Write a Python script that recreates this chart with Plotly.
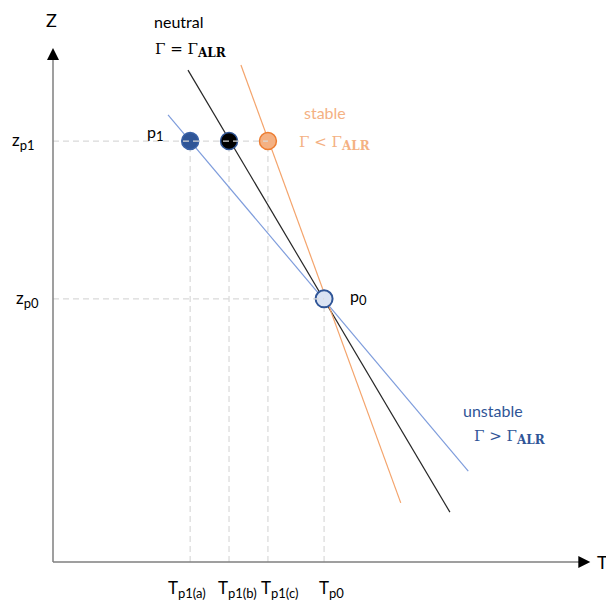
import plotly.graph_objects as go

# ---- data (schematic units) ----
T_ticks = [2.54, 3.26, 3.98, 5.02]
T_tick_subs = ["p1(a)", "p1(b)", "p1(c)", "p0"]
z_p0 = 5.12
z_p1 = 8.19
z_tick_subs = ["p1", "p0"]

# parcel points at z_p1 (unstable, neutral, stable) and p0
p1_T = [2.54, 3.26, 3.98]
p0_T = 5.02

# lapse-rate lines: (T, z) endpoints
unstable_T = [2.13, 7.69]
unstable_z = [8.70, 1.77]
neutral_T = [2.50, 7.35]
neutral_z = [9.57, 0.97]
stable_T = [3.48, 6.44]
stable_z = [9.67, 1.15]

BLUE_LINE = "#7f9ddc"
BLUE_DARK = "#2f5597"
ORANGE_LINE = "#f4a46c"
ORANGE_FILL = "#f4b183"
ORANGE_EDGE = "#ed7d31"
GRID = "#d9d9d9"

fig = go.Figure()

dash = dict(color=GRID, width=1.2, dash="6px,4px")
# vertical dashed guides (under markers)
for t in p1_T:
    fig.add_trace(go.Scatter(x=[t, t], y=[0, z_p1], mode="lines", line=dash, hoverinfo="skip"))
fig.add_trace(go.Scatter(x=[p0_T, p0_T], y=[0, z_p0], mode="lines", line=dash, hoverinfo="skip"))

# lines
fig.add_trace(go.Scatter(x=unstable_T, y=unstable_z, mode="lines",
                         line=dict(color=BLUE_LINE, width=1.2), hoverinfo="skip"))
fig.add_trace(go.Scatter(x=neutral_T, y=neutral_z, mode="lines",
                         line=dict(color="#262626", width=1.2), hoverinfo="skip"))
fig.add_trace(go.Scatter(x=stable_T, y=stable_z, mode="lines",
                         line=dict(color=ORANGE_LINE, width=1.2), hoverinfo="skip"))

# points
fig.add_trace(go.Scatter(x=p1_T, y=[z_p1] * 3, mode="markers",
                         marker=dict(size=17, color=[BLUE_DARK, "#000000", ORANGE_FILL],
                                     line=dict(color=["#3a62a8", BLUE_DARK, ORANGE_EDGE], width=1.5)),
                         hoverinfo="skip"))
fig.add_trace(go.Scatter(x=[p0_T], y=[z_p0], mode="markers",
                         marker=dict(size=17, color="#dae3f3", line=dict(color=BLUE_DARK, width=2)),
                         hoverinfo="skip"))

# horizontal dashed guides (above markers)
fig.add_trace(go.Scatter(x=[0, max(p1_T)], y=[z_p1, z_p1], mode="lines", line=dash, hoverinfo="skip"))
fig.add_trace(go.Scatter(x=[0, p0_T], y=[z_p0, z_p0], mode="lines", line=dash, hoverinfo="skip"))

# axes lines
fig.add_shape(type="line", x0=0, y0=0, x1=9.85, y1=0, xref="x", yref="y",
              line=dict(color="#7f7f7f", width=1.5))
fig.add_shape(type="line", x0=0, y0=0, x1=0, y1=9.85, xref="x", yref="y",
              line=dict(color="#7f7f7f", width=1.5))
# arrowheads
fig.add_annotation(x=9.95, y=0, ax=-12, ay=0, xref="x", yref="y", showarrow=True,
                   arrowhead=2, arrowsize=1.6, arrowwidth=1.5, arrowcolor="#000000", text="")
fig.add_annotation(x=0, y=10.0, ax=0, ay=12, xref="x", yref="y", showarrow=True,
                   arrowhead=2, arrowsize=1.6, arrowwidth=1.5, arrowcolor="#000000", text="")

sans = "Lato, 'Open Sans', sans-serif"
serif = "'DejaVu Serif', 'Liberation Serif', serif"


def sub(s, px):
    return '<sub><span style="font-size:%dpx">%s</span></sub>' % (px, s)


def txt(x, y, text, color="#000000", size=15, family=sans, xanchor="center", xshift=0):
    fig.add_annotation(x=x, y=y, xref="x", yref="y", text=text, showarrow=False, xshift=xshift,
                       font=dict(family=family, size=size, color=color), xanchor=xanchor)


alr = '<sub><span style="font-size:12px"><b>ALR</b></span></sub>'
txt(-0.02, 10.55, "Z", size=18)
txt(10.17, 0, "T", size=18)
txt(2.33, 10.51, "neutral", size=16)
txt(2.56, 9.96, "Γ = Γ" + alr, family=serif, size=15)
txt(1.89, 8.35, "p" + sub("1", 13), size=16)
txt(5.04, 8.74, "stable", color=ORANGE_FILL, size=16)
txt(5.22, 8.15, "Γ &lt; Γ" + alr, color=ORANGE_FILL, family=serif, size=15)
txt(5.65, 5.16, "p" + sub("0", 13), size=16)
txt(8.15, 2.94, "unstable", color=BLUE_DARK, size=16)
txt(8.46, 2.43, "Γ &gt; Γ" + alr, color=BLUE_DARK, family=serif, size=15)

# tick labels
shifts = [-3, 8, 12, 7]
for t, s_, sh in zip(T_ticks, T_tick_subs, shifts):
    txt(t, -0.53, "T" + sub(s_, 13), size=17, xshift=sh)
for z, s_, xs in zip([z_p1, z_p0], z_tick_subs, [-0.54, -0.47]):
    txt(xs, z, "z" + sub(s_, 13), size=17)

# axis ranges span the whole figure so all labels stay within range
fig.update_layout(
    width=606, height=603,
    margin=dict(l=0, r=0, t=0, b=0),
    paper_bgcolor="white", plot_bgcolor="white",
    showlegend=False,
    xaxis=dict(range=[-53 / 54, 553 / 54], visible=False),
    yaxis=dict(range=[-41 / 51.4, 562 / 51.4], visible=False),
)
fig.write_html("out.html")
